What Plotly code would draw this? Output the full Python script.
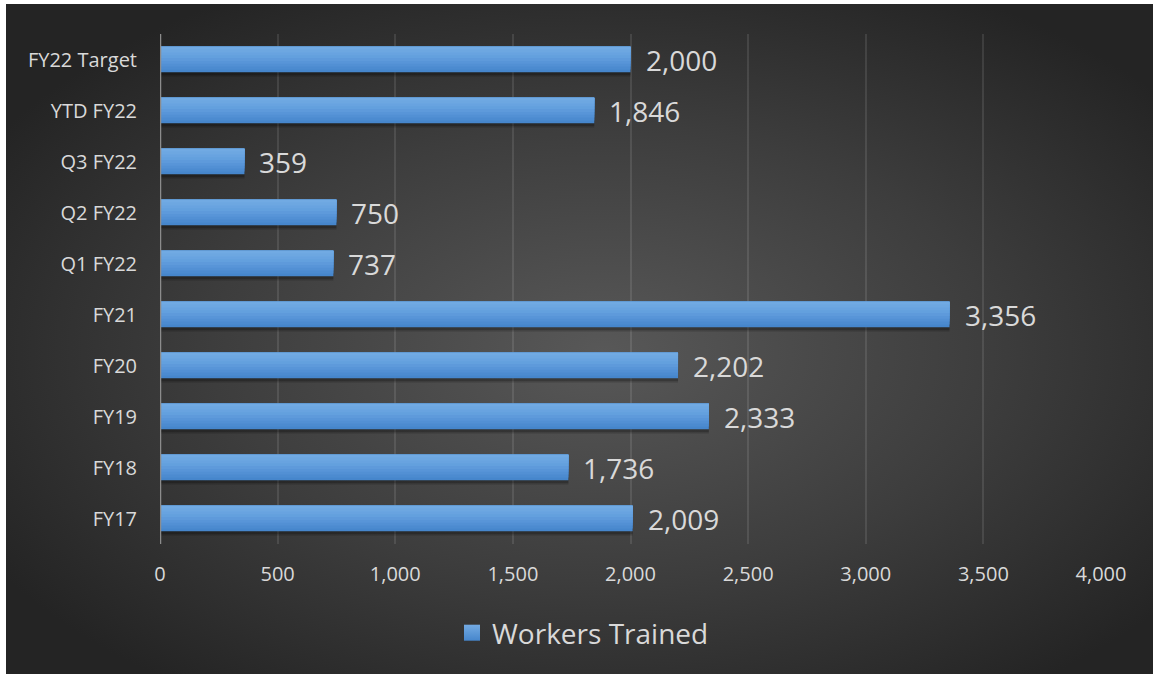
import base64
import plotly.graph_objects as go

# Workers trained per period (bottom to top)
periods = ["FY17", "FY18", "FY19", "FY20", "FY21",
           "Q1 FY22", "Q2 FY22", "Q3 FY22", "YTD FY22", "FY22 Target"]
workers_trained = [2009, 1736, 2333, 2202, 3356, 737, 750, 359, 1846, 2000]
x_ticks = [0, 500, 1000, 1500, 2000, 2500, 3000, 3500, 4000]

W, H = 1153, 674
L, R, T, B = 160, 52, 34, 130
PW, PH = W - L - R, H - T - B

FONT = "'Open Sans', sans-serif"
TXT = "#d9d9d9"

# Dark radial-gradient backdrop as an inline SVG
svg = (
    '<svg xmlns="http://www.w3.org/2000/svg" width="1147" height="670" '
    'viewBox="0 0 1147 670" preserveAspectRatio="none">'
    '<defs><radialGradient id="g" cx="52%" cy="52%" r="62%">'
    '<stop offset="0%" stop-color="#585858"/>'
    '<stop offset="55%" stop-color="#3d3d3d"/>'
    '<stop offset="100%" stop-color="#242424"/>'
    '</radialGradient></defs>'
    '<rect width="1147" height="670" fill="url(#g)"/></svg>'
)
bg_src = "data:image/svg+xml;base64," + base64.b64encode(svg.encode()).decode()

fig = go.Figure()

# Soft drop shadow beneath each bar
for off, alpha in [(-0.34, 0.12), (-0.31, 0.22)]:
    fig.add_trace(go.Bar(
        y=periods, x=workers_trained, orientation="h",
        width=0.5, offset=off,
        marker=dict(color=f"rgba(0,0,0,{alpha})", line=dict(width=0)),
        showlegend=False, hoverinfo="skip",
    ))

# Nested bars, all sharing the top edge, lighten towards the top
shades = ["#4686cc", "#4c8bd0", "#5290d4", "#5895d8", "#5e9adb",
          "#63a0de", "#68a3e0", "#6da7e1", "#71aae3"]
n = len(shades)
for i, col in enumerate(shades):
    h = 0.5 * (n - i) / n
    fig.add_trace(go.Bar(
        y=periods, x=workers_trained, orientation="h",
        width=h, offset=0.25 - h,
        marker=dict(color=col, line=dict(width=0)),
        showlegend=False, hoverinfo="skip",
    ))

# Legend entry
fig.add_trace(go.Scatter(
    x=[None], y=[None], mode="markers", name="Workers Trained",
    marker=dict(symbol="square", size=19, color="#74abe3",
                gradient=dict(type="vertical", color="#4686cc"),
                line=dict(width=0)),
    showlegend=True,
))

# Value labels at the end of each bar
for p, v in zip(periods, workers_trained):
    fig.add_annotation(
        x=v, y=p, xref="x", yref="y", text=f"{v:,}", showarrow=False,
        xanchor="left", yanchor="middle", xshift=13,
        font=dict(family=FONT, size=28, color=TXT),
    )

fig.add_layout_image(
    source=bg_src, xref="paper", yref="paper",
    x=(6 - L) / PW, y=1 + (T - 4) / PH,
    sizex=(W - 6) / PW, sizey=(H - 4) / PH,
    xanchor="left", yanchor="top", sizing="stretch", layer="below",
)

fig.update_layout(
    width=W, height=H,
    margin=dict(l=L, r=R, t=T, b=B),
    paper_bgcolor="white",
    plot_bgcolor="rgba(0,0,0,0)",
    barmode="overlay",
    font=dict(family=FONT, color=TXT),
    showlegend=True,
    legend=dict(
        orientation="h", x=(583 - L) / PW, xanchor="center",
        y=(T + PH - 633) / PH, yanchor="middle",
        font=dict(family=FONT, size=28, color=TXT),
        bgcolor="rgba(0,0,0,0)", itemsizing="trace",
    ),
    xaxis=dict(
        range=[0, 4000], tickvals=x_ticks,
        ticktext=[f"{t:,}" for t in x_ticks],
        showgrid=True, gridcolor="rgba(255,255,255,0.1)", gridwidth=2,
        zeroline=False, showline=False, ticks="",
        tickfont=dict(family=FONT, size=20, color=TXT),
        ticklabelstandoff=16,
    ),
    yaxis=dict(
        type="category", categoryorder="array", categoryarray=periods,
        showgrid=False, zeroline=False, ticks="",
        showline=False,
        tickfont=dict(family=FONT, size=20, color=TXT),
        ticklabelstandoff=22,
    ),
    shapes=[dict(
        type="line", xref="x", yref="paper", x0=0, x1=0, y0=0, y1=1,
        line=dict(color="#8c8c8c", width=2.5), layer="above",
    )],
)

fig.write_html("out.html")
